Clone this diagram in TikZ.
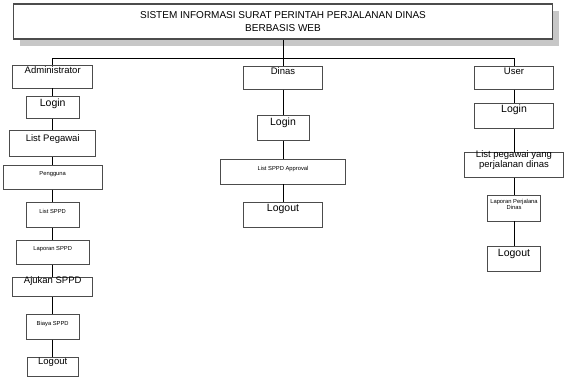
\documentclass[tikz,border=0pt]{standalone}
\usepackage{fontspec}
\setmainfont{Liberation Sans}
\usetikzlibrary{shadows}
\begin{document}
\begin{tikzpicture}[x=1pt,y=-1pt,
  bx/.style n args={3}{draw=black!70, line width=0.8pt, fill=white, inner sep=0pt,
    minimum width=#1, text height=#2, text depth=#3},
  conn/.style={draw=black, line width=0.8pt},
  fa/.style={font=\fontsize{9.5}{9}\selectfont},
  fl/.style={font=\fontsize{10.5}{12}\selectfont},
  fs/.style={font=\fontsize{5.8}{6.8}\selectfont},
  titlebox/.style={draw=black!70, line width=1.6pt, fill=white,
    minimum width=539pt, minimum height=35pt, align=center,
    font=\fontsize{10}{12.7}\selectfont,
    drop shadow={shadow xshift=6.5pt, shadow yshift=-6.5pt, fill=black!22, opacity=1}}]
\useasboundingbox (0,0) rectangle (569,377);

% title
\node[titlebox] (title) at (283,21.7) {SISTEM INFORMASI SURAT PERINTAH PERJALANAN DINAS\\BERBASIS WEB};

% Administrator column
\node[bx={80pt}{8.3pt}{14.7pt}, fa] (adm) at (52.7,76.5) {Administrator};
\node[bx={53pt}{10.7pt}{11.6pt}, fl] (login1) at (52.7,107.15) {Login};
\node[bx={86pt}{11pt}{15pt}, fa] (listpeg) at (52.7,143.7) {List Pegawai};
\node[bx={98.4pt}{10.3pt}{14pt}, fs] (pengguna) at (52.7,177.15) {Pengguna};
\node[bx={53pt}{10.6pt}{14pt}, fs] (listsppd) at (52.7,215) {List SPPD};
\node[bx={73pt}{10.7pt}{13.6pt}, fs] (lapsppd) at (52.7,252.15) {Laporan SPPD};
\node[bx={80pt}{6pt}{13.4pt}, fa] (ajukan) at (52.7,287) {Ajukan SPPD};
\node[bx={53pt}{11pt}{14.3pt}, fs] (biaya) at (52.7,326.65) {Biaya SPPD};
\node[bx={50.4pt}{6.6pt}{12.4pt}, fa] (logout1) at (52.7,367.2) {Logout};

% Dinas column
\node[bx={79.4pt}{8.3pt}{14.3pt}, fa] (dinas) at (283,78) {Dinas};
\node[bx={52pt}{10pt}{15.7pt}, fl] (login2) at (283,127.85) {Login};
\node[bx={125.3pt}{11pt}{14pt}, fs] (appr) at (283,171.5) {List SPPD Approval};
\node[bx={79.4pt}{9pt}{16pt}, fl] (logout2) at (283,215.2) {Logout};

% User column
\node[bx={79.7pt}{8pt}{14.6pt}, fa] (user) at (514,78) {User};
\node[bx={79.7pt}{9.4pt}{15.6pt}, fl] (login3) at (514,115.8) {Login};
\node[bx={99.7pt}{5pt}{19.6pt}, fa] (lpd) at (514,165) {\begin{tabular}[t]{@{}c@{}}List pegawai yang\\perjalanan dinas\end{tabular}};
\node[bx={53pt}{8pt}{18pt}, fs] (lapperj) at (514,208) {\begin{tabular}[t]{@{}c@{}}Laporan Perjalana\\Dinas\end{tabular}};
\node[bx={53pt}{10pt}{15pt}, fl] (logout3) at (514,258.5) {Logout};

% connectors
\coordinate (jl) at (52.7,58.3);
\coordinate (jr) at (514,58.3);
\draw[conn] (title.south) -- (dinas.north);
\draw[conn] (adm.north) -- (jl) -- (jr) -- (user.north);
\draw[conn] (adm) -- (login1);
\draw[conn] (login1) -- (listpeg);
\draw[conn] (listpeg) -- (pengguna);
\draw[conn] (pengguna) -- (listsppd);
\draw[conn] (listsppd) -- (lapsppd);
\draw[conn] (lapsppd) -- (ajukan);
\draw[conn] (ajukan) -- (biaya);
\draw[conn] (biaya) -- (logout1);
\draw[conn] (dinas) -- (login2);
\draw[conn] (login2) -- (appr);
\draw[conn] (appr) -- (logout2);
\draw[conn] (user) -- (login3);
\draw[conn] (login3) -- (lpd);
\draw[conn] (lpd) -- (lapperj);
\draw[conn] (lapperj) -- (logout3);
\end{tikzpicture}
\end{document}
